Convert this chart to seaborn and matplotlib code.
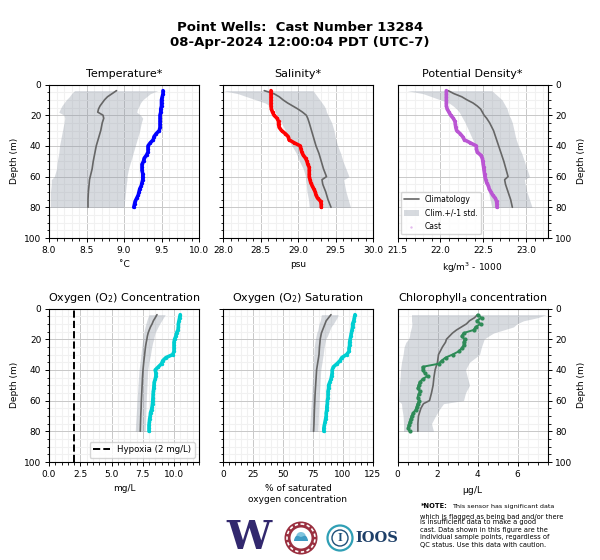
import matplotlib
matplotlib.use('Agg')
import matplotlib.pyplot as plt
from matplotlib.patches import Circle, Wedge
from matplotlib.ticker import MultipleLocator
import seaborn as sns

# depths (m)
clim_depth = [4, 6, 8, 10, 12, 14, 16, 18, 20, 22, 25, 30, 35, 40, 45, 50, 55, 60, 62, 65, 70, 75, 80]
cast_depth = [4, 6, 8, 10, 12, 14, 16, 18, 20, 22, 24, 26, 28, 30, 32, 34, 36, 38, 40, 42,
              44, 46, 48, 50, 52, 54, 56, 58, 60, 62, 64, 66, 68, 70, 72, 74, 76, 78, 80]

# temperature
temp_clim = [8.9, 8.84, 8.78, 8.74, 8.71, 8.68, 8.66, 8.65, 8.72, 8.73, 8.71, 8.69, 8.66, 8.63, 8.61, 8.59, 8.575, 8.55, 8.54, 8.535, 8.525, 8.52, 8.52]
temp_low = [8.34, 8.3, 8.27, 8.23, 8.2, 8.17, 8.15, 8.13, 8.2, 8.21, 8.2, 8.18, 8.16, 8.14, 8.13, 8.11, 8.1, 8.07, 8.03, 8.03, 8.02, 8.02, 8.02]
temp_high = [9.45, 9.35, 9.3, 9.25, 9.22, 9.2, 9.18, 9.17, 9.22, 9.25, 9.23, 9.21, 9.18, 9.15, 9.12, 9.09, 9.06, 9.04, 9.04, 9.03, 9.02, 9.01, 9.0]
temp_cast = [9.52, 9.52, 9.51, 9.5, 9.5, 9.5, 9.49, 9.49, 9.48, 9.48, 9.48, 9.48, 9.48, 9.47, 9.43, 9.4, 9.39, 9.35, 9.32, 9.32,
             9.32, 9.3, 9.27, 9.26, 9.24, 9.24, 9.24, 9.25, 9.25, 9.25, 9.24, 9.23, 9.21, 9.2, 9.19, 9.17, 9.15, 9.14, 9.13]

# salinity
sal_clim = [28.55, 28.68, 28.75, 28.8, 28.86, 28.93, 29.0, 29.06, 29.11, 29.13, 29.15, 29.18, 29.21, 29.24, 29.28, 29.31, 29.34, 29.38, 29.32, 29.33, 29.37, 29.4, 29.44]
sal_low = [28.0, 28.2, 28.32, 28.44, 28.56, 28.63, 28.68, 28.7, 28.72, 28.74, 28.78, 28.83, 28.87, 28.92, 28.98, 29.02, 29.07, 29.1, 29.1, 29.11, 29.12, 29.14, 29.15]
sal_high = [29.2, 29.23, 29.26, 29.29, 29.32, 29.35, 29.37, 29.38, 29.4, 29.42, 29.45, 29.48, 29.5, 29.53, 29.57, 29.6, 29.64, 29.68, 29.61, 29.62, 29.64, 29.67, 29.7]
sal_cast = [28.64, 28.64, 28.64, 28.64, 28.64, 28.64, 28.645, 28.66, 28.68, 28.72, 28.74, 28.74, 28.75, 28.78, 28.83, 28.87, 28.88, 28.95, 29.03, 29.04,
            29.05, 29.07, 29.1, 29.12, 29.13, 29.15, 29.15, 29.15, 29.15, 29.16, 29.17, 29.19, 29.21, 29.23, 29.24, 29.26, 29.3, 29.31, 29.31]

# potential density
dens_clim = [22.09, 22.16, 22.25, 22.31, 22.38, 22.43, 22.47, 22.49, 22.51, 22.54, 22.575, 22.62, 22.65, 22.68, 22.71, 22.74, 22.765, 22.79, 22.75, 22.76, 22.79, 22.82, 22.84]
dens_low = [21.61, 21.8, 21.9, 22.0, 22.1, 22.15, 22.19, 22.22, 22.24, 22.26, 22.29, 22.33, 22.37, 22.41, 22.45, 22.48, 22.51, 22.53, 22.53, 22.54, 22.56, 22.58, 22.6]
dens_high = [22.6, 22.64, 22.68, 22.72, 22.74, 22.76, 22.78, 22.79, 22.8, 22.82, 22.84, 22.86, 22.88, 22.91, 22.95, 22.98, 23.01, 23.04, 22.98, 22.99, 23.01, 23.04, 23.07]
dens_cast = [22.07, 22.07, 22.07, 22.07, 22.07, 22.07, 22.08, 22.1, 22.12, 22.15, 22.17, 22.175, 22.18, 22.19, 22.23, 22.26, 22.28, 22.35, 22.42, 22.42,
             22.43, 22.47, 22.49, 22.495, 22.5, 22.505, 22.51, 22.515, 22.52, 22.53, 22.54, 22.56, 22.57, 22.59, 22.61, 22.64, 22.655, 22.66, 22.66]

# oxygen concentration
oxy_clim = [8.64, 8.5, 8.35, 8.25, 8.12, 8.02, 7.93, 7.87, 7.83, 7.78, 7.72, 7.65, 7.58, 7.52, 7.48, 7.45, 7.42, 7.39, 7.38, 7.37, 7.34, 7.32, 7.3]
oxy_low = [8.0, 7.9, 7.82, 7.75, 7.68, 7.62, 7.58, 7.55, 7.52, 7.47, 7.42, 7.35, 7.28, 7.2, 7.16, 7.12, 7.08, 7.04, 7.03, 7.01, 6.97, 6.93, 6.9]
oxy_high = [9.3, 9.15, 9.0, 8.85, 8.72, 8.6, 8.48, 8.42, 8.37, 8.3, 8.22, 8.12, 8.0, 7.9, 7.87, 7.84, 7.81, 7.78, 7.77, 7.76, 7.74, 7.72, 7.7]
oxy_cast = [10.5, 10.45, 10.4, 10.35, 10.35, 10.32, 10.2, 10.15, 10.05, 10.0, 10.0, 10.0, 10.0, 9.9, 9.35, 9.1, 9.0, 8.75, 8.5, 8.55,
            8.55, 8.5, 8.42, 8.4, 8.38, 8.35, 8.33, 8.32, 8.3, 8.28, 8.25, 8.2, 8.12, 8.1, 8.05, 8.03, 8.0, 8.0, 8.0]

# oxygen saturation
sat_clim = [90, 88, 86, 85, 84, 83, 82, 81.5, 81, 80.8, 80.4, 80, 79, 78, 77.6, 77.2, 76.8, 76.5, 76.4, 76.2, 76, 75.8, 75.5]
sat_low = [82, 81.5, 81, 80, 79.5, 79, 78, 77.5, 77, 76.5, 76, 75.7, 75.3, 75, 74.6, 74.3, 74, 73.6, 73.5, 73.2, 72.8, 72.4, 72]
sat_high = [96, 95, 93.5, 92, 90, 89, 88, 87, 85.5, 85, 84.3, 83.5, 82.5, 81.5, 81.1, 80.8, 80.4, 80, 80, 79.8, 79.5, 79.3, 79]
sat_cast = [110, 109.5, 109, 108, 108, 107.5, 107, 106.5, 106, 105.5, 105.5, 105, 105, 103, 99, 97.5, 95, 92, 91, 91,
            90.5, 90, 89, 88, 88, 87.5, 87.5, 87.5, 87, 87, 86.5, 86.5, 86, 86, 85.5, 85, 84.5, 84, 84]

# chlorophyll
chl_clim = [4.0, 3.85, 3.6, 3.45, 3.2, 2.95, 2.75, 2.6, 2.45, 2.4, 2.25, 2.05, 2.0, 1.88, 1.82, 1.78, 1.7, 1.6, 1.3, 1.17, 1.05, 1.02, 1.02]
chl_low = [0.7, 0.7, 0.7, 0.72, 0.7, 0.66, 0.62, 0.6, 0.55, 0.42, 0.33, 0.28, 0.2, 0.15, 0.13, 0.1, 0.08, 0.05, 0.2, 0.22, 0.28, 0.3, 0.3]
chl_high = [7.43, 7.0, 6.3, 5.97, 5.8, 5.3, 4.8, 4.55, 4.33, 4.28, 4.2, 4.1, 3.6, 3.4, 3.5, 3.6, 3.4, 3.3, 2.3, 2.13, 1.9, 1.7, 1.8]
chl_cast = [4.0, 4.2, 3.95, 4.15, 3.9, 3.8, 3.3, 3.2, 3.35, 3.3, 3.3, 3.2, 3.05, 2.75, 2.4, 2.2, 2.05, 1.25, 1.25, 1.35,
            1.5, 1.25, 1.1, 1.05, 1.0, 1.12, 1.05, 1.0, 1.08, 1.0, 0.95, 0.9, 0.78, 0.7, 0.65, 0.6, 0.55, 0.52, 0.6]

hypoxia = 2

sns.set_style('ticks')
plt.rcParams['font.family'] = ['DejaVu Sans']
plt.rcParams['mathtext.default'] = 'regular'
plt.rcParams['text.color'] = 'black'
plt.rcParams['axes.labelcolor'] = 'black'
plt.rcParams['xtick.color'] = 'black'
plt.rcParams['ytick.color'] = 'black'

fig = plt.figure(figsize=(6, 5.6), dpi=100)


def panel(left, top, title, xlabel, xlim, major, minor, clim, low, high, cast, color, side='none', size=6, lw=2.6):
    ax = fig.add_axes([left / 600, 1 - (top + 153.5) / 560, 150 / 600, 153.5 / 560])
    ax.fill_betweenx(clim_depth, low, high, color='#8d97a5', alpha=0.35, lw=0, label='Clim.+/-1 std.', zorder=1)
    sns.lineplot(x=clim, y=clim_depth, orient='y', sort=False, estimator=None, color='#666666', lw=1.2,
                 label='Climatology', ax=ax, zorder=3, legend=False)
    sns.lineplot(x=cast, y=cast_depth, orient='y', sort=False, estimator=None, color=color, lw=lw, ax=ax, zorder=4, legend=False)
    sns.scatterplot(x=cast, y=cast_depth, color=color, s=size, linewidth=0, label='Cast', ax=ax, zorder=5, legend=False)
    ax.set_xlim(xlim)
    ax.set_ylim(100, 0)
    ax.xaxis.set_major_locator(MultipleLocator(major))
    ax.xaxis.set_minor_locator(MultipleLocator(minor))
    ax.yaxis.set_major_locator(MultipleLocator(20))
    ax.yaxis.set_minor_locator(MultipleLocator(5))
    ax.grid(which='major', color='#c8c8c8', lw=0.7, zorder=0)
    ax.grid(which='minor', color='#f1f1f1', lw=0.8, zorder=0)
    ax.set_axisbelow(True)
    ax.tick_params(which='major', labelsize=6.5, length=3, width=0.7, pad=2.5)
    ax.tick_params(which='minor', length=1.8, width=0.6)
    ax.set_title(title, fontsize=8, pad=5.5)
    ax.set_xlabel(xlabel, fontsize=6.5, labelpad=4)
    for s in ax.spines.values():
        s.set_linewidth(0.8)
        s.set_color('black')
    if side == 'left':
        ax.set_ylabel('Depth (m)', fontsize=6.5, labelpad=3.5)
    elif side == 'right':
        ax.yaxis.tick_right()
        ax.yaxis.set_label_position('right')
        ax.set_ylabel('Depth (m)', fontsize=6.5, labelpad=3)
    else:
        ax.set_ylabel('')
        ax.tick_params(axis='y', which='both', labelleft=False)
    return ax


panel(49, 84.5, 'Temperature*', '˚C', (8, 10), 0.5, 0.1, temp_clim, temp_low, temp_high, temp_cast, 'blue', 'left')
panel(223, 84.5, 'Salinity*', 'psu', (28, 30), 0.5, 0.1, sal_clim, sal_low, sal_high, sal_cast, 'red')
ax_d = panel(397.5, 84.5, 'Potential Density*', 'kg/m$^3$ - 1000', (21.5, 23.25), 0.5, 0.1, dens_clim, dens_low, dens_high, dens_cast, '#ba55d3', 'right')
ax_o = panel(49, 308.5, 'Oxygen (O$_2$) Concentration', 'mg/L', (0, 12), 2.5, 0.5, oxy_clim, oxy_low, oxy_high, oxy_cast, '#00ced1', 'left')
panel(223, 308.5, 'Oxygen (O$_2$) Saturation', '% of saturated\noxygen concentration', (0, 125), 25, 5, sat_clim, sat_low, sat_high, sat_cast, '#00ced1')
panel(397.5, 308.5, 'Chlorophyll$_a$ concentration', '$\\mu$g/L', (0, 7.5), 2, 0.5, chl_clim, chl_low, chl_high, chl_cast, '#2e8b57', 'right', size=9, lw=1.4)

handles, labels = ax_d.get_legend_handles_labels()
order = [labels.index(n) for n in ['Climatology', 'Clim.+/-1 std.', 'Cast']]
leg = ax_d.legend([handles[i] for i in order], [labels[i] for i in order], loc='lower left', fontsize=5.5,
                  bbox_to_anchor=(0.01, 0.015), borderaxespad=0.2, frameon=True, labelspacing=0.6)
leg.legend_handles[2].set_alpha(0.4)
leg.legend_handles[2].set_sizes([3])

ax_o.axvline(hypoxia, color='black', ls='--', lw=1.4, label='Hypoxia (2 mg/L)', zorder=2)
hyp = ax_o.get_legend_handles_labels()
ax_o.legend([hyp[0][hyp[1].index('Hypoxia (2 mg/L)')]], ['Hypoxia (2 mg/L)'], loc='lower right', fontsize=6.2,
            borderaxespad=0.5, frameon=True)

fig.text(0.5, 1 - 35 / 560, 'Point Wells:  Cast Number 13284\n08-Apr-2024 12:00:04 PDT (UTC-7)', ha='center', va='center',
         fontsize=9.5, fontweight='bold', linespacing=1.2)

# logos and note, laid out in pixels
over = fig.add_axes([0, 0, 1, 1], facecolor='none')
over.set_xlim(0, 600)
over.set_ylim(560, 0)
over.axis('off')
over.text(249, 538, 'W', family='DejaVu Serif', fontweight='bold', fontsize=29, color='#32286e', ha='center', va='center')
over.add_patch(Circle((301, 538), 16.5, fc='#9a2f3f', ec='none'))
over.add_patch(Circle((301, 538), 14, fc='none', ec='white', lw=1.2, ls=(0, (2, 1.5))))
over.add_patch(Circle((301, 538), 10.5, fc='white', ec='none'))
over.add_patch(Wedge((301, 541), 7, 180, 360, fc='#3f9cc4', ec='none'))
over.add_patch(Wedge((301, 537), 5, 200, 340, fc='#7fc4de', ec='none'))
over.add_patch(Circle((340, 538), 12.5, fc='none', ec='#2f9fb5', lw=1.6))
over.add_patch(Circle((340, 538), 8, fc='none', ec='#1d4f78', lw=1))
over.text(340, 538, 'I', family='Liberation Serif', fontweight='bold', fontsize=9, color='#1d4f78', ha='center', va='center')
over.text(355.5, 538, 'IOOS', family='DejaVu Serif', fontweight='bold', fontsize=10.5, color='#1d3f68', ha='left', va='center')

note_lines = ['which is flagged as being bad and/or there', 'is insufficient data to make a good',
              'cast. Data shown in this figure are the', 'individual sample points, regardless of',
              'QC status. Use this data with caution.']
note_y = [516.7, 522, 530, 537, 545]
over.text(421, 506.5, '*NOTE:', fontsize=4.8, fontweight='bold', va='center')
over.text(452, 506.5, 'This sensor has significant data', fontsize=4.6, va='center')
for line, y in zip(note_lines, note_y):
    over.text(420, y, line, fontsize=4.8, va='center')

fig.savefig('out.png', dpi=100)
